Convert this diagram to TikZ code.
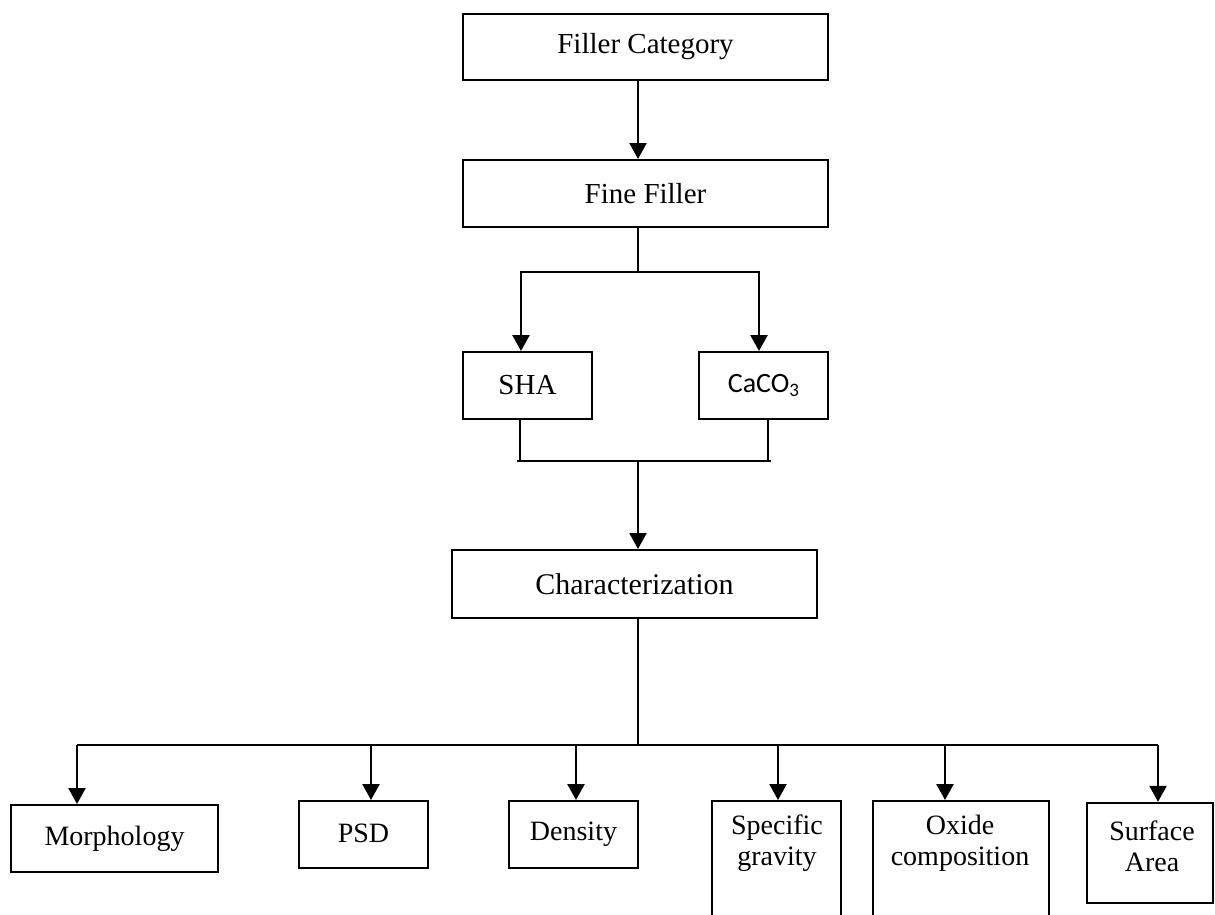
\documentclass[tikz,border=0pt]{standalone}
\usepackage{fontspec}
\setmainfont{Liberation Serif}
\newfontfamily\carlito{Carlito}
\usetikzlibrary{arrows.meta}
\tikzset{
  box/.style={draw, line width=2pt, rectangle, inner sep=0pt, align=center},
  bigtext/.style={font=\fontsize{29}{32}\selectfont},
  smalltext/.style={font=\fontsize{28}{31}\selectfont},
  arr/.style={line width=2.4pt, -{Triangle[width=17pt,length=16pt]}},
  conn/.style={line width=1.5pt}
}
\begin{document}
\begin{tikzpicture}[x=1pt,y=-1pt]
\useasboundingbox (0,0) rectangle (1215,914);
\clip (0,0) rectangle (1215,914);
\fill[white] (0,0) rectangle (1215,914);
% boxes
\node[box,bigtext,minimum width=365pt,minimum height=66pt] (fc) at (645.5,47) {Filler Category};
\node[box,bigtext,minimum width=365pt,minimum height=67pt] (ff) at (645.5,193.5) {Fine Filler};
\node[box,bigtext,minimum width=129pt,minimum height=67pt] (sha) at (527.5,385.5) {SHA};
\node[box,font=\fontsize{28}{32}\carlito,minimum width=129pt,minimum height=67pt] (caco) at (763.5,385.5) {CaCO\raisebox{-0.3ex}{\fontsize{19}{20}\selectfont 3}};
\node[box,font=\fontsize{30}{33}\selectfont,minimum width=365pt,minimum height=68pt] (ch) at (634.5,584) {Characterization};
\node[box,smalltext,minimum width=207pt,minimum height=67pt] (mo) at (114.5,838.5) {Morphology};
\node[box,smalltext,minimum width=129pt,minimum height=67pt] (psd) at (363.5,834.5) {\raisebox{3pt}{PSD}};
\node[box,smalltext,minimum width=129pt,minimum height=67pt] (de) at (573.5,834.5) {\raisebox{3pt}{Density}};
\node[box,minimum width=129pt,minimum height=139pt] (sg) at (776.5,870.5) {};
\node[box,minimum width=176pt,minimum height=139pt] (ox) at (961,870.5) {};
\node[box,line width=2.4pt,minimum width=126pt,minimum height=100pt] (sa) at (1150,853) {};
\node[smalltext,align=center] (sgt) at (777,843) {Specific\\gravity};
\node[smalltext,align=center] (oxt) at (960,843) {Oxide\\composition};
\node[smalltext,align=center] (sat) at (1152,846) {Surface\\Area};
% coordinates
\coordinate (spine) at (638,0);
\coordinate (br) at (638,272);
\coordinate (bl) at (521,272);
\coordinate (brr) at (759,272);
\coordinate (s1) at (520,461);
\coordinate (s2) at (768,461);
\coordinate (m1) at (517,461);
\coordinate (m2) at (771,461);
\coordinate (mc) at (638,461);
\coordinate (bus) at (638,745);
\coordinate (busl) at (77,745);
\coordinate (busr) at (1158,745);
\coordinate (xpsd) at (371,745);
\coordinate (xde) at (576,745);
\coordinate (xsg) at (778,745);
\coordinate (xox) at (945,745);
% connectors
\draw[arr] (fc.south -| spine) -- (ff.north -| spine);
\draw[conn] (ff.south -| spine) -- (br);
\draw[arr] (br) -| (bl |- sha.north);
\draw[arr] (br) -| (brr |- caco.north);
\draw[conn] (sha.south -| s1) -- (s1);
\draw[conn] (caco.south -| s2) -- (s2);
\draw[conn] (m1) -- (m2);
\draw[arr] (mc) -- (ch.north -| mc);
\draw[conn] (ch.south -| spine) -- (bus);
\draw[conn] (busl) -- (busr);
\draw[arr] (busl) -- (busl |- mo.north);
\draw[arr] (xpsd) -- (xpsd |- psd.north);
\draw[arr] (xde) -- (xde |- de.north);
\draw[arr] (xsg) -- (xsg |- sg.north);
\draw[arr] (xox) -- (xox |- ox.north);
\draw[arr] (busr) -- (busr |- sa.north);
\end{tikzpicture}
\end{document}
